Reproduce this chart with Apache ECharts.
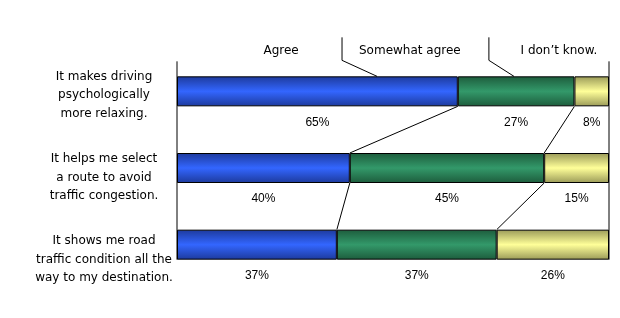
<!DOCTYPE html>
<html><head><meta charset="utf-8">
<script src="https://cdn.jsdelivr.net/npm/echarts@6/dist/echarts.min.js"></script>
<style>html,body{margin:0;padding:0;background:#fff}#c{width:620px;height:318px}</style>
</head><body><div id="c"></div>
<script>
// ---- data ----
const categories = [
  'It makes driving\npsychologically\nmore relaxing.',
  'It helps me select\na route to avoid\ntraffic congestion.',
  'It shows me road\ntraffic condition all the\nway to my destination.'
];
const seriesNames = ['Agree', 'Somewhat agree', 'I don\u2019t know.'];
const agree = [65, 40, 37];
const somewhatAgree = [27, 45, 37];
const dontKnow = [8, 15, 26];

// ---- styling ----
const BAR_W = 30;
const FONT = 'DejaVu Sans';
function grad(edge, mid) {
  return {type: 'linear', x: 0, y: 0, x2: 0, y2: 1,
    colorStops: [{offset: 0, color: edge}, {offset: 0.5, color: mid}, {offset: 1, color: edge}]};
}
const colors = [grad('#1d3a9c', '#3366ff'), grad('#1d5c3c', '#33996a'), grad('#9a9a58', '#ffff99')];
// annotation placement (in axis percent units) for series-name labels
const nameLabelX = [24.1, 53.9, 88.4];
const leaderX = [null, [38.2, 46.3], [72.2, 78.0]];

const chart = echarts.init(document.getElementById('c'));

function renderOverlay(params, api) {
  const half = BAR_W / 2;
  const cy = i => api.coord([0, i])[1];
  const px = v => api.coord([v, 0])[0];
  const st = {stroke: '#000', lineWidth: 1, fill: null};
  const ln = (x1, y1, x2, y2) => ({type: 'line', shape: {x1, y1, x2, y2}, style: st});
  const kids = [];
  const top = cy(0) - half - 15, bottom = cy(categories.length - 1) + half;
  kids.push(ln(px(0), top, px(0), bottom));
  kids.push(ln(px(100), top, px(100), bottom));
  for (let i = 0; i < categories.length - 1; i++) {
    const b1 = agree[i], b1n = agree[i + 1];
    const b2 = agree[i] + somewhatAgree[i], b2n = agree[i + 1] + somewhatAgree[i + 1];
    kids.push(ln(px(b1), cy(i) + half, px(b1n), cy(i + 1) - half));
    kids.push(ln(px(b2), cy(i) + half, px(b2n), cy(i + 1) - half));
  }
  const barTop = cy(0) - half;
  seriesNames.forEach((n, k) => {
    kids.push({type: 'text', x: px(nameLabelX[k]), y: barTop - 25,
      style: {text: n, font: '12px "' + FONT + '"', fill: '#000', align: 'center', verticalAlign: 'middle'}});
    if (leaderX[k]) {
      const [a, b] = leaderX[k];
      kids.push({type: 'polyline', shape: {points: [[px(a), barTop - 39], [px(a), barTop - 16], [px(b), barTop]]}, style: st});
    }
  });
  return {type: 'group', children: kids};
}

const label = {show: true, position: 'bottom', distance: 10, formatter: '{c}%',
  fontFamily: 'Liberation Sans', fontSize: 12, color: '#000'};
const mkBar = (name, data, idx) => ({
  name, type: 'bar', stack: 'total', data, barWidth: BAR_W,
  xAxisIndex: 0, yAxisIndex: 0,
  itemStyle: {color: colors[idx], borderColor: '#000', borderWidth: 1},
  label
});

chart.setOption({
  animation: false,
  backgroundColor: '#fff',
  grid: [
    {left: 177, right: 11, top: 53, bottom: 35},
    {left: 177, right: 11, top: 54, bottom: 17}
  ],
  xAxis: [
    {gridIndex: 0, type: 'value', min: 0, max: 100, show: false},
    {gridIndex: 1, type: 'value', min: 0, max: 1, show: false}
  ],
  yAxis: [
    {gridIndex: 0, type: 'category', data: categories, inverse: true, show: false},
    {gridIndex: 1, type: 'category', data: categories, inverse: true,
      axisLine: {show: false}, axisTick: {show: false}, splitLine: {show: false},
      axisLabel: {show: true, align: 'center', margin: 73, fontFamily: FONT, fontSize: 12,
        lineHeight: 18.5, color: '#000'}}
  ],
  series: [
    mkBar(seriesNames[0], agree, 0),
    mkBar(seriesNames[1], somewhatAgree, 1),
    mkBar(seriesNames[2], dontKnow, 2),
    {type: 'custom', xAxisIndex: 0, yAxisIndex: 0, data: [[0, 0]], silent: true, z: 10,
      renderItem: renderOverlay}
  ]
});
</script>
</body></html>
